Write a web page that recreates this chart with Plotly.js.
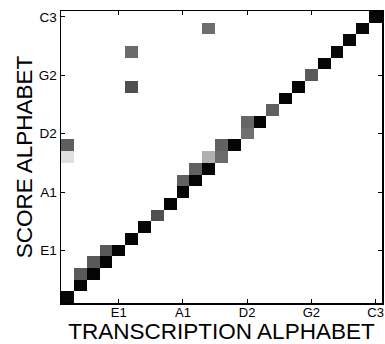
<!DOCTYPE html>
<html>
<head>
<meta charset="utf-8">
<script src="https://cdn.plot.ly/plotly-3.0.1.min.js"></script>
<style>html,body{margin:0;padding:0;background:#fff;}#chart{width:385px;height:344px;}</style>
</head>
<body>
<div id="chart"></div>
<script>
// Note alphabet (C1 .. C3), shared by both axes
var noteNames = ['C1','C#1','D1','D#1','E1','F1','F#1','G1','G#1','A1','A#1','B1',
                 'C2','C#2','D2','D#2','E2','F2','F#2','G2','G#2','A2','A#2','B2','C3'];
var tickNotes = ['E1','A1','D2','G2','C3'];

// Non-empty cells: transcription index (x), score index (y), intensity (0 = white, 1 = black)
var cellCol   = [0, 1, 1, 2, 2, 3, 3, 4, 5, 6, 7, 8, 9, 9, 10, 10, 11, 11, 12, 12, 13, 14, 14, 15, 16, 17, 18, 19, 20, 21, 22, 23, 24, 0, 0, 5, 5, 11];
var cellRow   = [0, 1, 2, 2, 3, 3, 4, 4, 5, 6, 7, 8, 9, 10, 10, 11, 11, 12, 12, 13, 13, 14, 15, 15, 16, 17, 18, 19, 20, 21, 22, 23, 24, 12, 13, 18, 21, 23];
var cellLevel = [0.98,0.98,0.65,0.98,0.65,0.98,0.65,0.98,0.98,0.98,0.69,0.98,0.98,0.62,0.98,0.62,0.98,0.31,0.58,0.62,0.98,0.56,0.60,0.98,0.62,0.98,0.98,0.65,0.98,0.97,0.97,0.97,0.98,0.12,0.63,0.69,0.58,0.57];

var z = [];
for (var r = 0; r < noteNames.length; r++) {
  var row = [];
  for (var c = 0; c < noteNames.length; c++) row.push(0);
  z.push(row);
}
for (var k = 0; k < cellCol.length; k++) z[cellRow[k]][cellCol[k]] = cellLevel[k];

var axisCommon = {
  type: 'category',
  showline: true, linecolor: '#000', linewidth: 1.5, mirror: 'ticks',
  ticks: 'inside', ticklen: 4, tickcolor: '#000', tickwidth: 1,
  showgrid: false, zeroline: false,
  tickvals: tickNotes, ticktext: tickNotes,
  tickfont: {family: 'Liberation Sans, Arial, sans-serif', size: 13.5, color: '#000'}
};

var layout = {
  width: 385, height: 344,
  margin: {l: 61, r: 3, t: 11, b: 41},
  paper_bgcolor: '#fff', plot_bgcolor: '#fff',
  showlegend: false,
  xaxis: Object.assign({}, axisCommon, {
    tickfont: {family: 'Liberation Sans, Arial, sans-serif', size: 13, color: '#000'},
    ticklabelstandoff: -3,
    title: {text: 'TRANSCRIPTION ALPHABET', font: {family: 'Liberation Sans, Arial, sans-serif', size: 22.5, color: '#000'}, standoff: 0}
  }),
  yaxis: Object.assign({}, axisCommon, {
    title: {text: 'SCORE ALPHABET', font: {family: 'Liberation Sans, Arial, sans-serif', size: 22.5, color: '#000'}, standoff: 0}
  })
};

Plotly.newPlot('chart', [{
  type: 'heatmap',
  x: noteNames, y: noteNames, z: z,
  zmin: 0, zmax: 1,
  colorscale: [[0, '#ffffff'], [1, '#000000']],
  showscale: false, hoverinfo: 'skip'
}], layout, {displayModeBar: false, staticPlot: true});
</script>
</body>
</html>
